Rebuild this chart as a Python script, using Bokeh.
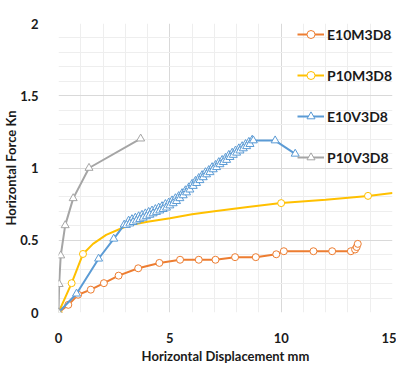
from bokeh.plotting import figure
from bokeh.models import Range1d, FixedTicker, NumeralTickFormatter, Legend, LegendItem
from bokeh.embed import file_html
from bokeh.resources import INLINE

# ---- data ----
e10m_x = [0, 0.44, 0.88, 1.45, 2.04, 2.7, 3.58, 4.53, 5.46, 6.3, 7.05, 7.93, 8.86, 9.78, 10.12, 11.45, 12.29, 13.13, 13.32, 13.39, 13.44]
e10m_y = [0, 0.053, 0.123, 0.158, 0.203, 0.255, 0.306, 0.343, 0.365, 0.365, 0.365, 0.383, 0.383, 0.403, 0.424, 0.424, 0.424, 0.424, 0.436, 0.453, 0.475]

p10m_line_x = [0, 0.59, 1.1, 1.55, 2.14, 2.73, 3.17, 4.0, 5.01, 6.0, 7.0, 8.5, 10.0, 12.0, 13.9, 15.0]
p10m_line_y = [0, 0.203, 0.405, 0.475, 0.537, 0.576, 0.603, 0.628, 0.653, 0.68, 0.70, 0.73, 0.757, 0.78, 0.807, 0.827]
p10m_mark_x = [0, 0.59, 1.1, 10.0, 13.9]
p10m_mark_y = [0, 0.203, 0.405, 0.757, 0.807]

e10v_x = [0, 0.81, 1.8, 2.48, 2.95,
          3.15, 3.05, 3.3, 3.2, 3.45, 3.35, 3.6, 3.5, 3.75, 3.65, 3.9, 3.8, 4.05, 3.95, 4.2, 4.1,
          4.35, 4.25, 4.5, 4.4, 4.65, 4.55, 4.8, 4.7, 4.95, 4.85, 5.1, 5.0, 5.25, 5.15, 5.4, 5.3,
          5.55, 5.45, 5.7, 5.6, 5.85, 5.75, 6.0, 5.9, 6.15, 6.05, 6.3, 6.2, 6.45, 6.35, 6.6, 6.5,
          6.75, 6.65, 6.9, 6.8, 7.05, 6.95, 7.2, 7.1, 7.35, 7.25, 7.5, 7.4, 7.65, 7.55, 7.8, 7.7,
          7.95, 7.85, 8.1, 8.0, 8.25, 8.15, 8.4, 8.3, 8.55, 8.45, 8.7, 8.6, 8.75, 9.73, 10.63]
e10v_y = [0, 0.13, 0.372, 0.51, 0.607,
          0.635, 0.605, 0.645, 0.615, 0.655, 0.625, 0.665, 0.635, 0.675, 0.645, 0.685, 0.655, 0.695, 0.665, 0.705, 0.675,
          0.715, 0.685, 0.725, 0.695, 0.735, 0.705, 0.75, 0.715, 0.76, 0.725, 0.775, 0.74, 0.79, 0.755, 0.805, 0.77,
          0.825, 0.79, 0.845, 0.81, 0.865, 0.83, 0.89, 0.85, 0.91, 0.875, 0.93, 0.895, 0.95, 0.915, 0.97, 0.935,
          0.985, 0.955, 1.005, 0.97, 1.02, 0.99, 1.04, 1.005, 1.055, 1.025, 1.07, 1.04, 1.09, 1.055, 1.105, 1.075,
          1.12, 1.09, 1.135, 1.105, 1.15, 1.12, 1.165, 1.135, 1.18, 1.15, 1.195, 1.165, 1.19, 1.19, 1.098]

p10v_x = [0, 0.03, 0.1, 0.3, 0.66, 1.37, 3.69]
p10v_y = [0, 0.196, 0.394, 0.603, 0.79, 1.0, 1.203]

series_names = ["E10M3D8", "P10M3D8", "E10V3D8", "P10V3D8"]
colors = ["#ED7D31", "#FFC000", "#5B9BD5", "#A5A5A5"]

x_major = [0, 5, 10, 15]
x_minor = [1, 2, 3, 4, 6, 7, 8, 9, 11, 12, 13, 14]
y_major = [0, 0.5, 1, 1.5, 2]
y_minor = [0.1, 0.2, 0.3, 0.4, 0.6, 0.7, 0.8, 0.9, 1.1, 1.2, 1.3, 1.4, 1.6, 1.7, 1.8, 1.9]

FONT = "Lato"
TXT = "#1a1a1a"

p = figure(width=396, height=366, output_backend="svg", toolbar_location=None,
           x_range=Range1d(0, 15), y_range=Range1d(0, 2),
           min_border_left=58, min_border_right=4, min_border_top=23, min_border_bottom=44)
p.outline_line_color = None
p.background_fill_color = "white"

p.xaxis.ticker = FixedTicker(ticks=x_major, minor_ticks=x_minor)
p.yaxis.ticker = FixedTicker(ticks=y_major, minor_ticks=y_minor)
p.yaxis.formatter = NumeralTickFormatter(format="0.[0]")

for g in (p.xgrid, p.ygrid):
    g.grid_line_color = "#d9d9d9"
    g.grid_line_width = 1
    g.minor_grid_line_color = "#eeeeee"
    g.minor_grid_line_width = 1

for ax in (p.xaxis, p.yaxis):
    ax.axis_line_color = None
    ax.major_tick_line_color = None
    ax.minor_tick_line_color = None
    ax.major_label_text_font = FONT
    ax.major_label_text_font_style = "bold"
    ax.major_label_text_font_size = "13px"
    ax.major_label_text_color = TXT
    ax.axis_label_text_font = FONT
    ax.axis_label_text_font_style = "bold"
    ax.axis_label_text_font_size = "13px"
    ax.axis_label_text_color = TXT

p.xaxis.axis_label = "Horizontal Displacement mm"
p.yaxis.axis_label = "Horizontal Force Kn"
p.xaxis.major_label_standoff = 14
p.xaxis.axis_label_standoff = 2
p.yaxis.major_label_standoff = 14
p.yaxis.axis_label_standoff = -2

lw = 2
r1l = p.line(e10m_x, e10m_y, line_color=colors[0], line_width=lw)
r1m = p.scatter(e10m_x, e10m_y, marker="circle", size=7, line_color=colors[0], fill_color="white", line_width=1)

r2l = p.line(p10m_line_x, p10m_line_y, line_color=colors[1], line_width=lw)
r2m = p.scatter(p10m_mark_x, p10m_mark_y, marker="circle", size=7, line_color=colors[1], fill_color="white", line_width=1)

r3l = p.line(e10v_x, e10v_y, line_color=colors[2], line_width=lw)
r3m = p.scatter(e10v_x, e10v_y, marker="triangle", size=8, line_color=colors[2], fill_color="white", line_width=1)

r4l = p.line(p10v_x, p10v_y, line_color=colors[3], line_width=lw)
r4m = p.scatter(p10v_x, p10v_y, marker="triangle", size=8, line_color=colors[3], fill_color="white", line_width=1)

legend = Legend(items=[
    LegendItem(label=series_names[0], renderers=[r1l, r1m]),
    LegendItem(label=series_names[1], renderers=[r2l, r2m]),
    LegendItem(label=series_names[2], renderers=[r3l, r3m]),
    LegendItem(label=series_names[3], renderers=[r4l, r4m]),
], location=(239, 145))
legend.background_fill_alpha = 0
legend.border_line_color = None
legend.padding = 0
legend.margin = 0
legend.spacing = 21
legend.glyph_width = 27
legend.glyph_height = 20
legend.label_height = 20
legend.label_standoff = 3
legend.label_text_font = FONT
legend.label_text_font_style = "bold"
legend.label_text_font_size = "14px"
legend.label_text_color = TXT
p.add_layout(legend, "center")

open("out.html", "w").write(file_html(p, INLINE))
